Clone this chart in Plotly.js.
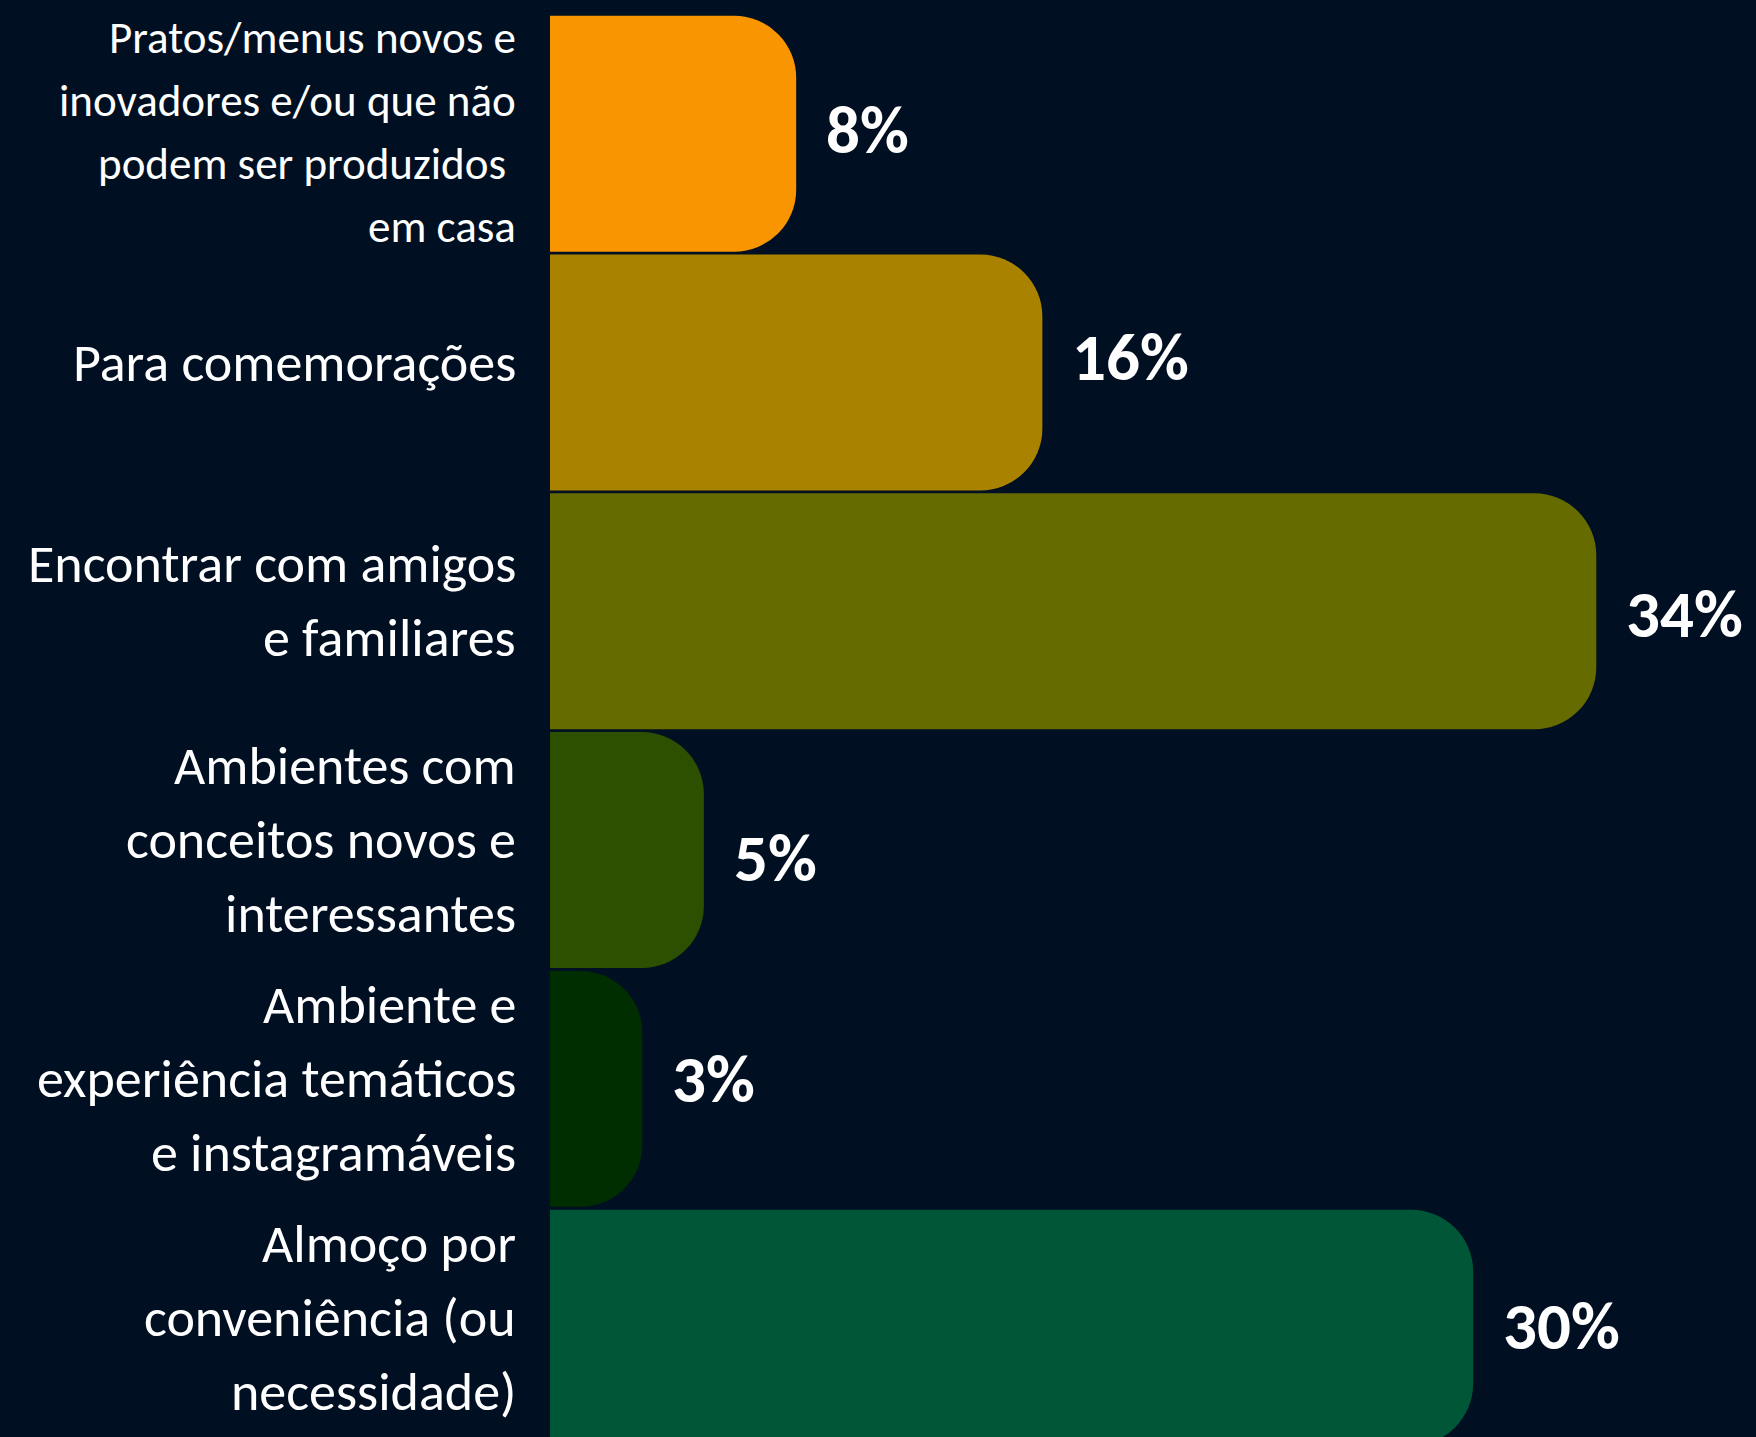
<!DOCTYPE html>
<html>
<head>
<meta charset="utf-8">
<script src="https://cdn.plot.ly/plotly-3.0.1.min.js"></script>
<style>
  html, body { margin: 0; padding: 0; background: #001022; }
  #chart { width: 1756px; height: 1437px; }
</style>
</head>
<body>
<div id="chart"></div>
<script>
// ---- data ----
const categories = [
  "Pratos/menus novos e inovadores",
  "Para comemorações",
  "Encontrar com amigos e familiares",
  "Ambientes com conceitos novos e interessantes",
  "Ambiente e experiência temáticos e instagramáveis",
  "Almoço por conveniência (ou necessidade)"
];
const values = [8, 16, 34, 5, 3, 30];
const valueLabels = ["8%", "16%", "34%", "5%", "3%", "30%"];
const labelLines = [
  ["Pratos/menus novos e", "inovadores e/ou que não", "podem ser produzidos\u00a0", "em casa"],
  ["Para comemorações"],
  ["Encontrar com amigos", "e familiares"],
  ["Ambientes com", "conceitos novos e", "interessantes"],
  ["Ambiente e", "experiência temáticos", "e instagramáveis"],
  ["Almoço por", "conveniência (ou", "necessidade)"]
];
const barColors = ["#F89500", "#A98300", "#666B00", "#2D4F00", "#002E00", "#005738"];

// ---- style ----
const FONT = "Carlito, Calibri, 'Liberation Sans Narrow', 'Open Sans', sans-serif";
const bg = "#001022";
const valueLabelNudge = [4, 16, -3, -8, 10, 2]; // vertical style offsets (px) for value labels

const annotations = [];
labelLines.forEach((lines, i) => {
  const small = lines.length > 3;
  const size = small ? 45 : 54;
  const spacing = small ? 63 : 74;
  const n = lines.length;
  lines.forEach((txt, j) => {
    annotations.push({
      xref: "x", yref: "y",
      x: 0, y: categories[i],
      text: txt,
      showarrow: false,
      xanchor: "right", yanchor: "middle",
      xshift: -32,
      yshift: -(j - (n - 1) / 2) * spacing + (small ? 2 : 10),
      font: { family: FONT, size: size, color: "#FFFFFF" }
    });
  });
});
values.forEach((v, i) => {
  annotations.push({
    xref: "x", yref: "y",
    x: v, y: categories[i],
    text: "<b>" + valueLabels[i] + "</b>",
    showarrow: false,
    xanchor: "left", yanchor: "middle",
    xshift: 28,
    yshift: valueLabelNudge[i],
    font: { family: FONT, size: 67, color: "#FFFFFF" }
  });
});

const trace = {
  type: "bar",
  orientation: "h",
  x: values,
  y: categories,
  marker: { color: barColors, cornerradius: 62, line: { width: 0 } },
  hoverinfo: "none"
};

const layout = {
  width: 1756, height: 1437,
  paper_bgcolor: bg, plot_bgcolor: bg,
  margin: { l: 550, r: 0, t: 0, b: 0, pad: 0 },
  bargap: 0.012,
  showlegend: false,
  xaxis: { range: [0, 39.19], visible: false, fixedrange: true },
  yaxis: { type: "category", range: [5.458, -0.56], showticklabels: false,
           showgrid: false, zeroline: false, showline: false, ticks: "" },
  annotations: annotations,
  font: { family: FONT, color: "#FFFFFF" }
};

Plotly.newPlot("chart", [trace], layout, { staticPlot: true, displayModeBar: false });
</script>
</body>
</html>
